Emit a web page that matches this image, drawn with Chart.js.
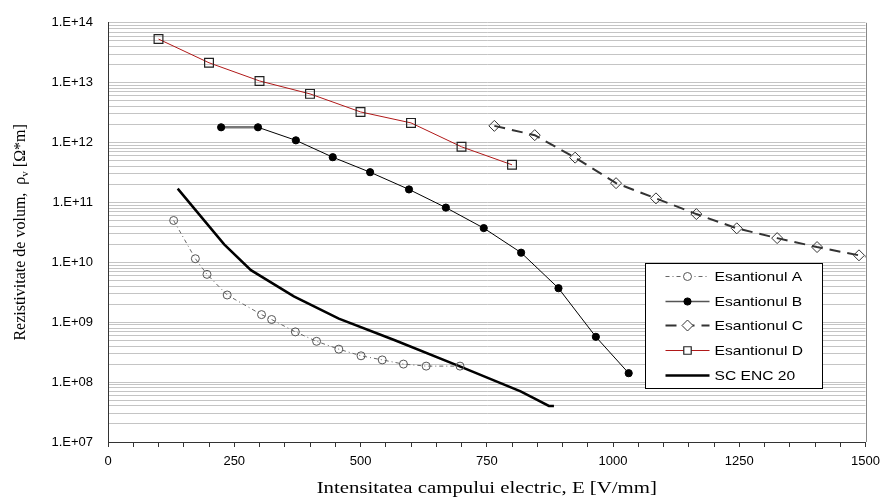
<!DOCTYPE html>
<html>
<head>
<meta charset="utf-8">
<script src="https://cdn.jsdelivr.net/npm/chart.js@4/dist/chart.umd.min.js"></script>
<style>
html,body{margin:0;padding:0;background:#fff;}
#wrap{width:887px;height:497px;}
</style>
</head>
<body>
<div id="wrap"><canvas id="c" width="887" height="497"></canvas></div>
<script>
// ---- data ----
const seriesNames = ['Esantionul A', 'Esantionul B', 'Esantionul C', 'Esantionul D', 'SC ENC 20'];

const eA   = [130, 173, 196, 236, 304, 324, 371, 413, 457, 501, 543, 585, 630, 697];
const rhoA = [5.0e10, 1.15e10, 6.3e9, 2.85e9, 1.34e9, 1.11e9, 6.9e8, 4.8e8, 3.55e8, 2.75e8, 2.35e8, 2.0e8, 1.85e8, 1.85e8];

const eB   = [224, 297, 372, 445, 519, 596, 669, 744, 818, 892, 966, 1031];
const rhoB = [1.8e12, 1.8e12, 1.09e12, 5.7e11, 3.2e11, 1.65e11, 8.2e10, 3.73e10, 1.45e10, 3.7e9, 5.7e8, 1.41e8];

const eC   = [765, 845, 925, 1006, 1085, 1165, 1245, 1325, 1404, 1487, 1565];
const rhoC = [1.9e12, 1.33e12, 5.6e11, 2.1e11, 1.17e11, 6.4e10, 3.7e10, 2.54e10, 1.8e10, 1.31e10, 1.0e10];

const eD   = [100, 200, 300, 400, 500, 600, 700, 800];
const rhoD = [5.35e13, 2.15e13, 1.07e13, 6.5e12, 3.25e12, 2.13e12, 8.5e11, 4.25e11];

const eSC   = [138, 185, 230, 283, 368, 457, 568, 699, 817, 845, 873, 883];
const rhoSC = [1.7e11, 5.7e10, 2.0e10, 7.4e9, 2.7e9, 1.15e9, 5.0e8, 1.8e8, 7.0e7, 5.3e7, 4.0e7, 4.0e7];

const xMajorTicks = [0, 250, 500, 750, 1000, 1250, 1500];
const xTickLabels = ['0', '250', '500', '750', '1000', '1250', '1500'];
const yTickExponents = [7, 8, 9, 10, 11, 12, 13, 14];
const yTickLabels = ['1.E+07', '1.E+08', '1.E+09', '1.E+10', '1.E+11', '1.E+12', '1.E+13', '1.E+14'];

const xTitle = 'Intensitatea campului electric, E [V/mm]';
const yTitleMain = 'Rezistivitate de volum,  \u03c1';
const yTitleSub = 'v';
const yTitleEnd = ' [\u03a9*m]';

// ---- helpers ----
const pts = (xs, ys) => xs.map((x, i) => ({x: x, y: ys[i]}));
const SANS = '"Liberation Sans", Arial, sans-serif';
const SERIF = '"Liberation Serif", "Times New Roman", serif';

const datasets = [
  {
    label: seriesNames[0], data: pts(eA, rhoA), showLine: true,
    borderColor: '#666', borderWidth: 1, borderDash: [4, 3, 1, 3],
    pointStyle: 'circle', pointRadius: 4, pointBorderColor: '#555',
    pointBackgroundColor: 'rgba(255,255,255,0)', pointBorderWidth: 1
  },
  {
    label: seriesNames[1], data: pts(eB, rhoB), showLine: true,
    borderColor: '#000', borderWidth: 1,
    segment: {
      borderColor: c => c.p0DataIndex === 0 ? '#777' : undefined,
      borderWidth: c => c.p0DataIndex === 0 ? 2.5 : undefined
    },
    pointStyle: 'circle', pointRadius: 3.6, pointBorderColor: '#000',
    pointBackgroundColor: '#000', pointBorderWidth: 1
  },
  {
    label: seriesNames[2], data: pts(eC, rhoC), showLine: true,
    borderColor: '#333', borderWidth: 2, borderDash: [11, 7],
    pointStyle: 'rectRot', pointRadius: 5.5, pointBorderColor: '#333',
    pointBackgroundColor: 'rgba(255,255,255,0)', pointBorderWidth: 1
  },
  {
    label: seriesNames[3], data: pts(eD, rhoD), showLine: true,
    borderColor: '#b01818', borderWidth: 1,
    pointStyle: 'rect', pointRadius: 6.2, pointBorderColor: '#222',
    pointBackgroundColor: 'rgba(255,255,255,0)', pointBorderWidth: 1.2
  },
  {
    label: seriesNames[4], data: pts(eSC, rhoSC), showLine: true,
    borderColor: '#000', borderWidth: 2.5, pointRadius: 0
  }
];

function drawMarker(ctx, style, x, y, r, fill, stroke, lw) {
  ctx.save();
  ctx.beginPath();
  if (style === 'circle') {
    ctx.arc(x, y, r, 0, Math.PI * 2);
  } else if (style === 'rect') {
    const s = r * Math.SQRT1_2;
    ctx.rect(x - s, y - s, 2 * s, 2 * s);
  } else if (style === 'rectRot') {
    ctx.moveTo(x - r, y); ctx.lineTo(x, y - r); ctx.lineTo(x + r, y); ctx.lineTo(x, y + r); ctx.closePath();
  }
  ctx.fillStyle = fill; ctx.fill();
  ctx.lineWidth = lw; ctx.strokeStyle = stroke; ctx.setLineDash([]); ctx.stroke();
  ctx.restore();
}

const framePlugin = {
  id: 'frame',
  beforeDatasetsDraw(chart) {
    const ctx = chart.ctx, a = chart.chartArea;
    ctx.save();
    ctx.strokeStyle = '#888'; ctx.lineWidth = 1;
    ctx.beginPath();
    ctx.moveTo(Math.round(a.right) + 0.5, a.top);
    ctx.lineTo(Math.round(a.right) + 0.5, a.bottom);
    ctx.stroke();
    ctx.restore();
  },
  afterDraw(chart) {
    const ctx = chart.ctx, a = chart.chartArea;
    // x axis title
    ctx.save();
    ctx.fillStyle = '#000';
    ctx.font = '16px ' + SERIF;
    ctx.textBaseline = 'middle'; ctx.textAlign = 'center';
    ctx.translate((a.left + a.right) / 2, 489);
    ctx.scale(1.3, 1);
    ctx.fillText(xTitle, 0, 0);
    ctx.restore();

    // y axis title with subscript
    ctx.save();
    ctx.fillStyle = '#000';
    ctx.translate(21, (a.top + a.bottom) / 2);
    ctx.rotate(-Math.PI / 2);
    ctx.textBaseline = 'middle'; ctx.textAlign = 'left';
    const fMain = '16px ' + SERIF, fSub = '11px ' + SERIF;
    ctx.font = fMain; const w1 = ctx.measureText(yTitleMain).width; const w3 = ctx.measureText(yTitleEnd).width;
    ctx.font = fSub; const w2 = ctx.measureText(yTitleSub).width;
    let x0 = -(w1 + w2 + w3) / 2;
    ctx.font = fMain; ctx.fillText(yTitleMain, x0, 0);
    ctx.font = fSub; ctx.fillText(yTitleSub, x0 + w1, 4);
    ctx.font = fMain; ctx.fillText(yTitleEnd, x0 + w1 + w2, 0);
    ctx.restore();

    // legend box
    const bx = Math.round(a.right) - 221 + 0.5, by = Math.round(a.top) + 240 + 0.5, bw = 177, bh = 125;
    ctx.save();
    ctx.fillStyle = '#fff';
    ctx.fillRect(bx, by, bw, bh);
    ctx.strokeStyle = '#000'; ctx.lineWidth = 1; ctx.setLineDash([]);
    ctx.strokeRect(bx, by, bw, bh);
    const rows = [13, 38, 62, 87, 112];
    datasets.forEach((ds, i) => {
      const yy = by + rows[i];
      const x1 = bx + 20, x2 = bx + 64, xm = bx + 42;
      ctx.save();
      ctx.beginPath();
      ctx.strokeStyle = i === 1 ? '#555' : ds.borderColor;
      ctx.lineWidth = i === 1 ? 1.5 : ds.borderWidth;
      ctx.setLineDash(ds.borderDash || []);
      ctx.moveTo(x1, yy); ctx.lineTo(x2, yy); ctx.stroke();
      ctx.restore();
      if (ds.pointRadius > 0) {
        drawMarker(ctx, ds.pointStyle, xm, yy, ds.pointRadius * (ds.pointStyle === 'rect' ? 0.85 : 1),
          ds.pointStyle === 'circle' && i === 1 ? '#000' : '#fff', ds.pointBorderColor, ds.pointBorderWidth);
      }
      ctx.save();
      ctx.fillStyle = '#000';
      ctx.font = '13px ' + SANS;
      ctx.textBaseline = 'middle'; ctx.textAlign = 'left';
      ctx.translate(bx + 69, yy + 0.5);
      ctx.scale(1.2, 1);
      ctx.fillText(ds.label, 0, 0);
      ctx.restore();
    });
    ctx.restore();
  }
};

new Chart(document.getElementById('c'), {
  type: 'scatter',
  data: {datasets: datasets},
  plugins: [framePlugin],
  options: {
    responsive: false,
    animation: false,
    events: [],
    layout: {padding: {top: 22, right: 18, left: 0, bottom: 0}},
    plugins: {legend: {display: false}, tooltip: {enabled: false}},
    elements: {line: {tension: 0}},
    scales: {
      x: {
        type: 'linear', min: 0, max: 1500,
        afterFit: s => { s.height = 55; },
        afterBuildTicks: s => {
          const t = [];
          for (let v = xMajorTicks[0]; v <= xMajorTicks[xMajorTicks.length - 1]; v += 50) t.push({value: v});
          s.ticks = t;
        },
        ticks: {
          autoSkip: false, maxRotation: 0, padding: 7, color: '#000',
          font: {family: SANS, size: 13},
          callback: v => { const k = xMajorTicks.indexOf(v); return k >= 0 ? xTickLabels[k] : ''; }
        },
        grid: {drawOnChartArea: false, drawTicks: true, tickLength: 5, tickColor: '#333', color: '#333'},
        border: {color: '#333', width: 1}
      },
      y: {
        type: 'logarithmic', min: 1e7, max: 1e14,
        afterFit: s => { s.width = 108; },
        afterBuildTicks: s => {
          const t = [];
          yTickExponents.forEach(e => {
            for (let m = 1; m <= 9; m++) {
              if (e === yTickExponents[yTickExponents.length - 1] && m > 1) break;
              t.push({value: m * Math.pow(10, e)});
            }
          });
          s.ticks = t;
        },
        ticks: {
          autoSkip: false, padding: 15, color: '#000',
          font: {family: SANS, size: 13},
          callback: v => {
            const e = Math.round(Math.log10(v));
            if (Math.abs(v / Math.pow(10, e) - 1) < 1e-9) {
              const k = yTickExponents.indexOf(e);
              return k >= 0 ? yTickLabels[k] : '';
            }
            return '';
          }
        },
        grid: {color: '#c4c4c4', lineWidth: 1, drawTicks: false, tickLength: 0},
        border: {color: '#333', width: 1}
      }
    }
  }
});
</script>
</body>
</html>
